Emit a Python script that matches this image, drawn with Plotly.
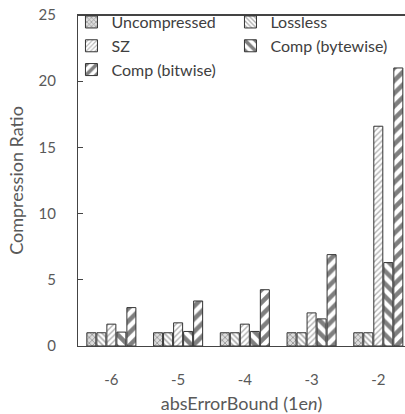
import plotly.graph_objects as go

categories = ["-6", "-5", "-4", "-3", "-2"]
uncompressed = [1.0, 1.0, 1.0, 1.0, 1.0]
lossless = [1.0, 1.0, 1.0, 1.0, 1.0]
sz = [1.65, 1.75, 1.65, 2.5, 16.6]
comp_bytewise = [1.05, 1.1, 1.1, 2.05, 6.3]
comp_bitwise = [2.9, 3.4, 4.25, 6.9, 21.0]

series = [
    ("Uncompressed", uncompressed, dict(shape="x", fgcolor="#555555", bgcolor="#dddddd", size=4, solidity=0.4)),
    ("Lossless", lossless, dict(shape="\\", fgcolor="#555555", bgcolor="#ffffff", size=4, solidity=0.4)),
    ("SZ", sz, dict(shape="/", fgcolor="#666666", bgcolor="#ffffff", size=4, solidity=0.35)),
    ("Comp (bytewise)", comp_bytewise, dict(shape="\\", fgcolor="#000000", bgcolor="#ffffff", size=9, solidity=0.5)),
    ("Comp (bitwise)", comp_bitwise, dict(shape="/", fgcolor="#000000", bgcolor="#ffffff", size=9, solidity=0.5)),
]

xs = list(range(len(categories)))
fig = go.Figure()
for name, vals, pat in series:
    fig.add_trace(go.Bar(
        x=xs, y=vals, name=name,
        marker=dict(color="#ffffff", pattern=pat, line=dict(color="#333333", width=1)),
    ))

font = dict(family="Lato, Open Sans, sans-serif", size=15, color="#595959")
fig.update_layout(
    width=405, height=414,
    margin=dict(l=78, r=0, t=15, b=68),
    paper_bgcolor="white", plot_bgcolor="white",
    barmode="group", bargap=0.25, bargroupgap=0.1,
    font=font,
    showlegend=True,
    legend=dict(
        orientation="h", x=-0.02, y=1.03, xanchor="left", yanchor="top",
        entrywidth=114, entrywidthmode="pixels",
        borderwidth=0, bgcolor="rgba(0,0,0,0)",
        font=dict(family="Lato, Open Sans, sans-serif", size=16, color="#404040"),
        tracegroupgap=0,
    ),
    xaxis=dict(
        range=[-0.5, 4.4], tickmode="array", tickvals=xs, ticktext=categories,
        showline=True, linecolor="#444444", linewidth=1, mirror="all", ticks="", showgrid=False,
        title=dict(text="absErrorBound (1e<i>n</i>)", standoff=14),
        tickfont=font, zeroline=False, ticklabelstandoff=20,
    ),
    yaxis=dict(
        range=[0, 25], dtick=5, showline=True, linecolor="#444444", linewidth=1,
        ticks="inside", ticklen=5, tickcolor="#444444", showgrid=False, zeroline=False,
        title=dict(text="Compression Ratio", standoff=10),
        tickfont=font, ticklabelstandoff=18,
    ),
    shapes=[dict(type="line", xref="paper", yref="paper", x0=0, x1=1, y0=1, y1=1,
                 line=dict(color="#444444", width=2), layer="above")],
)
fig.write_html("out.html")
